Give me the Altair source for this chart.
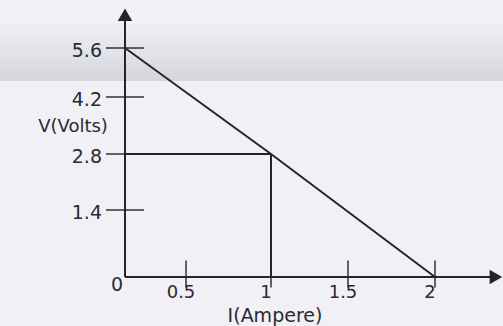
import altair as alt
import pandas as pd

# Terminal voltage against current drawn from the source
current = [0, 1, 2]
voltage = [5.6, 2.8, 0]

# Tick values and their labels
x_ticks = [0.5, 1, 1.5, 2]
x_labels = ["0.5", "1", "1.5", "2"]
y_ticks = [1.4, 2.8, 4.2, 5.6]
y_labels = ["1.4", "2.8", "4.2", "5.6"]

# Marked operating point
op_current = 1
op_voltage = 2.8

# Where the two axes end (arrowheads)
x_end = 2.35
y_end = 6.55

INK = "#24242c"
TEXT = "#2a2a32"
FONT = "DejaVu Sans"

# Hand-drawn graph: tick spacing on the paper is uneven, so piecewise scales
xs = alt.Scale(domain=[0, 0.5, 1, 1.5, 2], range=[125, 186, 271, 348, 435],
               zero=False, nice=False)
ys = alt.Scale(domain=[0, 1.4, 2.8, 4.2, 5.6], range=[277, 210, 154, 97, 48],
               zero=False, nice=False)


def X(field):
    return alt.X(field, type="quantitative", scale=xs, axis=None)


def Y(field):
    return alt.Y(field, type="quantitative", scale=ys, axis=None)


one = alt.Data(values=[{}])

# Greyish shading band across the top of the page
band = alt.Chart(one).mark_rect(
    fill=alt.Gradient(
        gradient="linear", x1=0, y1=0, x2=0, y2=1,
        stops=[alt.GradientStop(offset=0, color="#eeeef3"),
               alt.GradientStop(offset=0.5, color="#e2e2e9"),
               alt.GradientStop(offset=1, color="#d5d5dd")],
    )
).encode(x=alt.value(0), x2=alt.value(503), y=alt.value(24), y2=alt.value(81))

axes_df = pd.DataFrame({
    "x0": [0, 0], "x1": [x_end, 0],
    "y0": [0, 0], "y1": [0, y_end],
})
axes = alt.Chart(axes_df).mark_rule(color=INK, strokeWidth=2).encode(
    x=X("x0"), x2="x1", y=Y("y0"), y2="y1"
)

arrow_df = pd.DataFrame({"x": [0, x_end], "y": [y_end, 0],
                         "shape": ["triangle-up", "triangle-right"]})
arrows = alt.Chart(arrow_df).mark_point(filled=True, opacity=1, color=INK, size=210).encode(
    x=X("x"), y=Y("y"),
    shape=alt.Shape("shape:N", scale=None),
)

yt = alt.Chart(pd.DataFrame({"v": y_ticks, "zero": 0})).mark_tick(
    orient="horizontal", size=38, thickness=2, color=INK
).encode(x=X("zero"), y=Y("v"))

xt = alt.Chart(pd.DataFrame({"v": x_ticks, "zero": 0})).mark_tick(
    orient="vertical", size=27, thickness=2, color=INK, yOffset=-3
).encode(x=X("v"), y=Y("zero"))

guide_df = pd.DataFrame({
    "x0": [0, op_current], "x1": [op_current, op_current],
    "y0": [op_voltage, 0], "y1": [op_voltage, op_voltage],
})
guides = alt.Chart(guide_df).mark_rule(color=INK, strokeWidth=2).encode(
    x=X("x0"), x2="x1", y=Y("y0"), y2="y1"
)

line = alt.Chart(pd.DataFrame({"i": current, "v": voltage})).mark_line(
    color=INK, strokeWidth=2
).encode(x=X("i"), y=Y("v"))

ylab = alt.Chart(pd.DataFrame({"v": y_ticks, "t": y_labels, "zero": 0})).mark_text(
    font=FONT, fontSize=19, color=TEXT, align="right", baseline="middle", dx=-23, dy=3
).encode(x=X("zero"), y=Y("v"), text="t:N")

xlab = alt.Chart(pd.DataFrame({"v": x_ticks, "t": x_labels, "zero": 0})).mark_text(
    font=FONT, fontSize=18, color=TEXT, align="center", baseline="middle", dx=-5, dy=16
).encode(x=X("v"), y=Y("zero"), text="t:N")

origin = alt.Chart(pd.DataFrame({"v": [0], "t": ["0"]})).mark_text(
    font=FONT, fontSize=19, color=TEXT, align="center", baseline="middle", dx=-8, dy=8
).encode(x=X("v"), y=Y("v"), text="t:N")

ytitle = alt.Chart(one).mark_text(
    text="V(Volts)", font=FONT, fontSize=18, color=TEXT, align="center", baseline="middle"
).encode(x=alt.value(73), y=alt.value(127))

xtitle = alt.Chart(one).mark_text(
    text="I(Ampere)", font=FONT, fontSize=19, color=TEXT, align="center", baseline="middle"
).encode(x=alt.value(275), y=alt.value(316))

chart = alt.layer(
    band, axes, arrows, yt, xt, guides, line, ylab, xlab, origin, ytitle, xtitle
).properties(
    width=503, height=326, padding=0, autosize="none", background="#f0f0f5"
).configure_view(stroke=None)

chart.save("out.html", embed_options={"renderer": "svg", "actions": False})
